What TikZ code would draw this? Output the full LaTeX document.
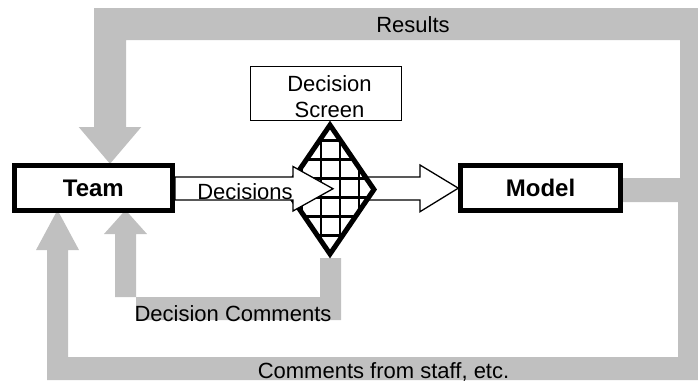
\documentclass[tikz,border=0pt]{standalone}
\usepackage{fontspec}
\setmainfont{Liberation Sans}
\usetikzlibrary{calc,shapes.geometric,backgrounds}
\definecolor{band}{HTML}{C0C0C0}
\tikzset{
  box/.style={draw=black, line width=5pt, fill=white, rectangle, inner sep=0pt,
    minimum width=158.3pt, minimum height=44.7pt, font=\fontsize{24}{27}\selectfont\bfseries},
  txt/.style={font=\fontsize{22}{25.3}\selectfont, inner sep=0pt, anchor=base},
  blockarrow/.style={draw=black, line width=1.3pt, fill=white, line join=miter},
  feedback/.style={fill=band, draw=none},
  gridline/.style={draw=black, line width=2.5pt},
  screenbox/.style={draw=black, line width=1.4pt, fill=white, rectangle, inner sep=0pt,
    minimum width=150.6pt, minimum height=53.6pt},
  screendia/.style={diamond, draw=black, line width=5pt, fill=white, inner sep=0pt,
    minimum width=90pt, minimum height=131pt, line join=miter,
    path picture={
      \foreach \gx in {-47,-28,-9,10,29,48}
        \draw[gridline] (path picture bounding box.center) ++(\gx,-80) -- ++(0,160);
      \foreach \gy in {-68,-49,-30,-11,8,27,46,65}
        \draw[gridline] (path picture bounding box.center) ++(-60,\gy) -- ++(120,0);
    }},
}
\begin{document}
\begin{tikzpicture}[x=1pt,y=-1pt]
\useasboundingbox (0,0) rectangle (698,383);
\node[box] (team) at (93.35,188.15) {Team};
\node[box, minimum width=159.5pt] (model) at (540.55,188.15) {Model};
\node[screenbox] (screen) at (326,93.5) {};
\node[txt, anchor=center, align=center] (screenlbl) at (329.5,96.6) {Decision\\Screen};

% connector points
\coordinate (ms1) at ($(model.east)+(0,-10.15)$);
\coordinate (ms2) at ($(model.east)+(0,13.85)$);
\coordinate (rtip) at ($(team.north)+(16.65,0.5)$);
\coordinate (ctip) at ($(team.south)+(-35.85,-3)$);
\coordinate (dctip) at ($(team.south)+(32.15,-3)$);

\begin{pgfonlayer}{background}
  % Results and Comments from staff loops
  \fill[feedback] (ms1) -- (680,178) -- (680,40) -- (126,40) -- (126,127) -- (141.3,127)
    -- (rtip) -- (78.7,127) -- (94,127) -- (94,8) -- (698,8) -- (698,380) -- (47,380)
    -- (47,250) -- (36,250) -- (ctip) -- (79,250) -- (68,250) -- (68,357) -- (678,357)
    -- (678,202) -- (ms2) -- cycle;
  % Decision comments
  \fill[feedback] (320,258) -- (341,258) -- (341,320) -- (136,320) -- (136,234) -- (147,234)
    -- (dctip) -- (104,234) -- (115,234) -- (115,297) -- (320,297) -- cycle;
\end{pgfonlayer}

% arrow from screen to model
\draw[blockarrow] (360,177) -- (420,177) -- (420,165) -- (model.west) -- (420,211.7)
  -- (420,200) -- (360,200) -- cycle;

% decision screen diamond
\node[screendia] (dia) at (330,189.5) {};

% decisions arrow from team
\draw[blockarrow] ($(team.east)+(0,-11.15)$) -- (293,177) -- (293,166.5) -- (333,188.75)
  -- (293,211) -- (293,200) -- ($(team.east)+(0,11.85)$) -- cycle;

\node[txt] (results) at (413,32) {Results};
\node[txt] (decisions) at (245,199) {Decisions};
\node[txt] (dcomments) at (233,321) {Decision Comments};
\node[txt] (staff) at (383.5,378.5) {Comments from staff, etc.};
\end{tikzpicture}
\end{document}
